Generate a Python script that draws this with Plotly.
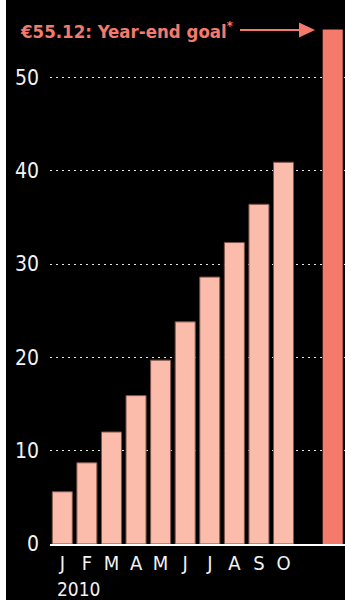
import plotly.graph_objects as go

months = ["J", "F", "M", "A", "M", "J", "J", "A", "S", "O"]
values = [5.6, 8.7, 12.0, 15.9, 19.7, 23.8, 28.6, 32.3, 36.4, 40.9]
goal_value = 55.12
goal_label = "€55.12: Year-end goal<sup>*</sup>"
year_label = "2010"
y_ticks = [0, 10, 20, 30, 40, 50]

W, H = 345, 600
L, R, T, B = 50, 0, 0, 56
PW, PH = W - L - R, H - T - B

def xp(p):
    return (p - L) / PW

def yp(p):
    return (H - B - p) / PH

FONT = "DejaVu Sans Condensed, Liberation Sans Narrow, sans-serif"
LIGHT = "#fbbcac"
GOAL = "#f47a6b"

x_months = list(range(len(months)))
goal_x = 11

fig = go.Figure()
fig.add_trace(go.Bar(
    x=x_months, y=values, width=0.815,
    marker=dict(color=LIGHT, line=dict(color="#7d5249", width=1)),
    hoverinfo="skip",
))
fig.add_trace(go.Bar(
    x=[goal_x], y=[goal_value], width=0.815,
    marker=dict(color=GOAL, line=dict(width=0)),
    hoverinfo="skip",
))

fig.update_layout(
    width=W, height=H,
    margin=dict(l=L, r=R, t=T, b=B),
    paper_bgcolor="black", plot_bgcolor="black",
    showlegend=False, barmode="overlay",
    xaxis=dict(
        range=[-0.5, 11.5], tickvals=x_months, ticktext=months,
        showgrid=False, zeroline=False,
        showline=True, linecolor="white", linewidth=2,
        ticks="", ticklabelstandoff=0,
        tickfont=dict(family=FONT, size=20, color="#f2f2f2"),
        fixedrange=True,
    ),
    yaxis=dict(
        range=[0, PH / 9.333], tickvals=y_ticks,
        showgrid=True, gridcolor="#e6e6e6", gridwidth=1, griddash="1.5px,4.5px",
        zeroline=False, showline=False, ticks="", ticklabelstandoff=10,
        tickfont=dict(family=FONT, size=21, color="#f2f2f2"),
        fixedrange=True,
    ),
    shapes=[
        dict(type="rect", xref="paper", yref="paper",
             x0=xp(0), x1=xp(6), y0=yp(600), y1=yp(0),
             fillcolor="white", line=dict(width=0), layer="above"),
        dict(type="line", xref="paper", yref="paper",
             x0=xp(240), x1=xp(302), y0=yp(30), y1=yp(30),
             line=dict(color=GOAL, width=2)),
        dict(type="path", xref="paper", yref="paper",
             path=f"M {xp(299)},{yp(22.5)} L {xp(315)},{yp(30)} L {xp(299)},{yp(37.5)} Z",
             fillcolor=GOAL, line=dict(width=0)),
    ],
    annotations=[
        dict(text=goal_label, xref="paper", yref="paper",
             x=xp(18), y=yp(30), xanchor="left", yanchor="middle",
             showarrow=False,
             font=dict(family=FONT, size=18.5, color=GOAL, weight="bold")),
        dict(text=year_label, xref="paper", yref="paper",
             x=xp(55), y=yp(589), xanchor="left", yanchor="middle",
             showarrow=False,
             font=dict(family=FONT, size=19, color="#f2f2f2")),
    ],
)

fig.write_html("out.html", config={"displayModeBar": False})
